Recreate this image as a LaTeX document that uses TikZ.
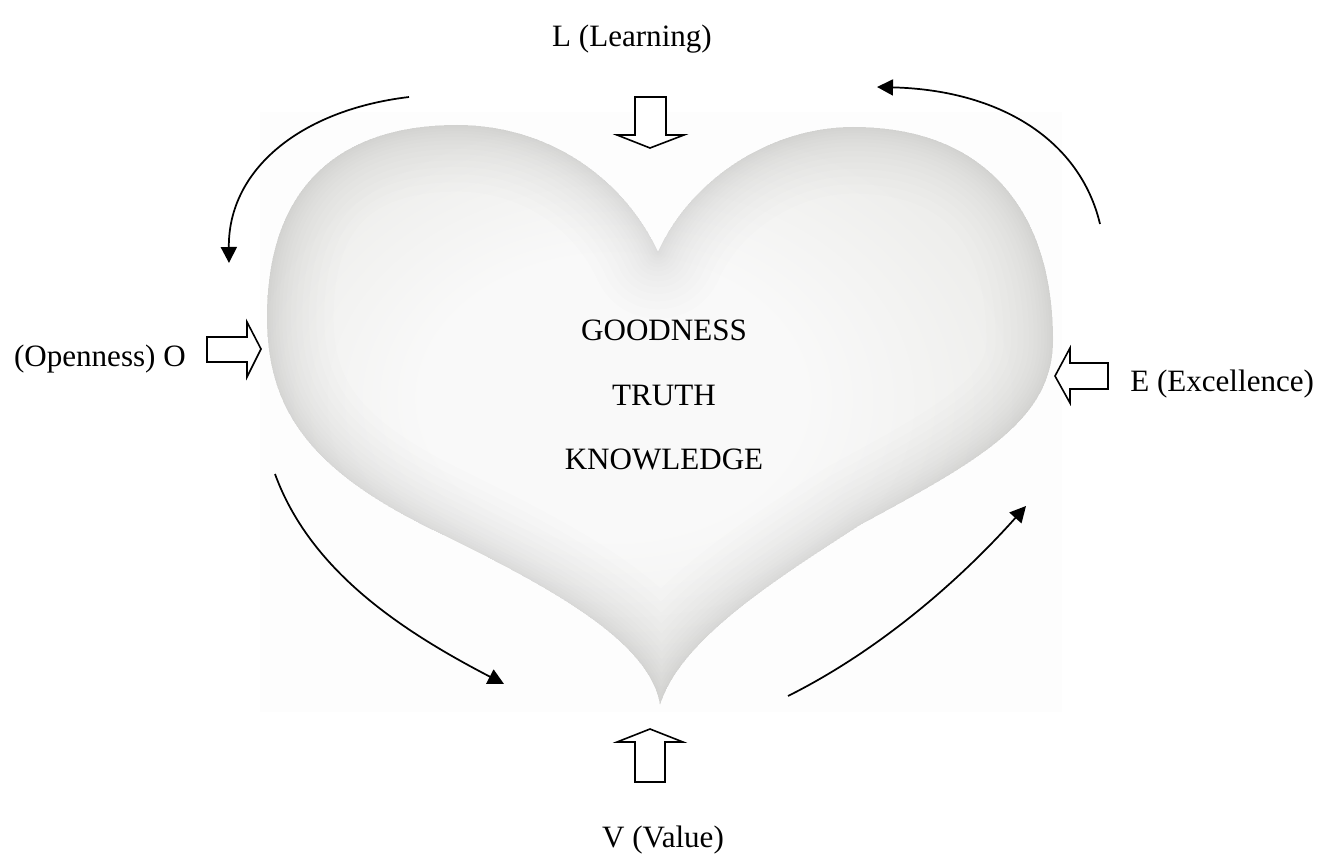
\documentclass[tikz,border=0pt]{standalone}
\usepackage{fontspec}
\setmainfont{Liberation Serif}
\usetikzlibrary{arrows.meta}
\definecolor{heartedge}{RGB}{238,238,236}
\definecolor{heartmid}{RGB}{249,249,249}
\definecolor{paperbg}{RGB}{253,253,253}
\newcommand\heartpath{(658,252) .. controls (690,180) and (770,127) .. (853,127)
  .. controls (985,127) and (1053,210) .. (1053,340)
  .. controls (1053,420) and (980,460) .. (860,525)
  .. controls (775,580) and (680,640) .. (660,705)
  .. controls (650,640) and (544,584) .. (433,530)
  .. controls (310,470) and (267,410) .. (267,317)
  .. controls (267,192) and (334,125) .. (457,125)
  .. controls (550,125) and (625,180) .. (658,252) -- cycle}
\pgfdeclareradialshading{heartshade}{\pgfpoint{-4bp}{2bp}}{%
  color(0bp)=(heartmid); color(12bp)=(heartmid); color(20bp)=(heartedge!60!heartmid);
  color(25bp)=(heartedge); color(50bp)=(heartedge)}
\tikzset{
  lbl/.style={font=\fontsize{23.3}{28}\selectfont, inner sep=0pt, anchor=base},
  blockarrow/.style={draw=black, line width=1.2pt, fill=white, line join=miter},
  cyclearrow/.style={draw=black, line width=1.3pt, -{Triangle[length=12pt,width=12pt]}},
  edgeband/.style={draw=black!85!olive, opacity=0.009, line join=round},
}
\begin{document}
\begin{tikzpicture}[x=0.75pt,y=-0.75pt]
\useasboundingbox (0,0) rectangle (1333,859);
% faint photo background
\fill[paperbg] (260,112) rectangle (1062,712);
% heart
\begin{scope}
  \clip \heartpath;
  \shade[shading=heartshade] \heartpath;
  \foreach \w in {100,86,74,63,53,44,36,29,23,18,13,9,5,2} {
    \draw[edgeband, line width=\w pt] \heartpath;
  }
\end{scope}
% centre texts
\node[lbl] (good) at (664,340) {GOODNESS};
\node[lbl] (truth) at (664,405) {TRUTH};
\node[lbl] (know) at (664,469) {KNOWLEDGE};
% outer labels
\node[lbl] (L) at (632,47) {L (Learning)};
\node[lbl, anchor=base east] (O) at (186,366) {(Openness) O};
\node[lbl, anchor=base west] (E) at (1130,391) {E (Excellence)};
\node[lbl] (V) at (663,847) {V (Value)};
% block arrows
\draw[blockarrow] (635,97) -- (666,97) -- (666,135) -- (684,135) -- (650,148) -- (617,135) -- (635,135) -- cycle;
\draw[blockarrow] (207,337) -- (247,337) -- (247,322) -- (261,349) -- (247,377) -- (247,362) -- (207,362) -- cycle;
\draw[blockarrow] (1108,363) -- (1070,363) -- (1070,348) -- (1055,376) -- (1070,403) -- (1070,389) -- (1108,389) -- cycle;
\draw[blockarrow] (635,782) -- (635,742) -- (617,742) -- (650,729) -- (683,742) -- (665,742) -- (665,782) -- cycle;
% cycle arrows
\coordinate (a1s) at (409,97);
\coordinate (a1e) at (229,263);
\coordinate (a2s) at (275,474);
\coordinate (a2e) at (504,684);
\coordinate (a3s) at (788,696);
\coordinate (a3e) at (1026,506);
\coordinate (a4s) at (1100,224);
\coordinate (a4e) at (877,87);
\draw[cyclearrow] (a1s) .. controls (300,110) and (228,170) .. (a1e);
\draw[cyclearrow] (a2s) .. controls (310,570) and (400,630) .. (a2e);
\draw[cyclearrow] (a3s) .. controls (880,650) and (960,580) .. (a3e);
\draw[cyclearrow] (a4s) .. controls (1080,140) and (1000,90) .. (a4e);
\end{tikzpicture}
\end{document}
